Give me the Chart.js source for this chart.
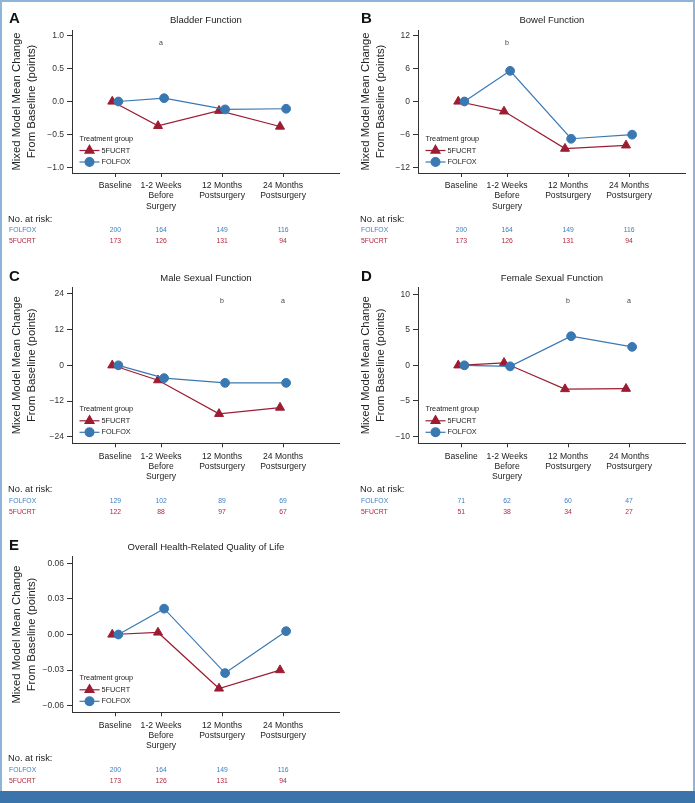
<!DOCTYPE html>
<html>
<head>
<meta charset="utf-8">
<script src="https://cdn.jsdelivr.net/npm/chart.js@4.4.1/dist/chart.umd.min.js"></script>
<style>
  html, body { margin: 0; padding: 0; background: #fff; }
  #page { position: relative; width: 695px; height: 803px; overflow: hidden; background: #fff; }
  #frame { position: absolute; left: 0; top: 0; width: 691px; height: 791px; border: 2px solid #8fb4d9; border-bottom: none; }
  #bar { position: absolute; left: 0; top: 791px; width: 695px; height: 12px; background: #3a74aa; }
  canvas { position: absolute; }
</style>
</head>
<body>
<div id="page">
  <div id="frame"></div>
  <div id="bar"></div>
</div>
<script>
// ── data ─────────────────────────────────────────────────────────
const timeLabels = [['Baseline'], ['1-2 Weeks', 'Before', 'Surgery'], ['12 Months', 'Postsurgery'], ['24 Months', 'Postsurgery']];
const timePos = [0, 0.75, 1.75, 2.75];
const dodge = 0.05;

const bladderFolfox = [0, 0.05, -0.12, -0.11];
const bladder5fucrt = [0, -0.37, -0.14, -0.38];
const bladderTicks  = [-1, -0.5, 0, 0.5, 1];
const bladderNotes  = ['', 'a', '', ''];

const bowelFolfox = [0, 5.6, -6.8, -6.05];
const bowel5fucrt = [0, -1.8, -8.6, -8.0];
const bowelTicks  = [-12, -6, 0, 6, 12];
const bowelNotes  = ['', 'b', '', ''];

const maleFolfox = [0, -4.3, -5.9, -5.9];
const male5fucrt = [0, -5.0, -16.3, -14.2];
const maleTicks  = [-24, -12, 0, 12, 24];
const maleNotes  = ['', '', 'b', 'a'];

const femaleFolfox = [0, -0.15, 4.1, 2.6];
const female5fucrt = [0, 0.35, -3.35, -3.3];
const femaleTicks  = [-10, -5, 0, 5, 10];
const femaleNotes  = ['', '', 'b', 'a'];

const qolFolfox = [0, 0.0218, -0.0325, 0.0028];
const qol5fucrt = [0, 0.0017, -0.0455, -0.030];
const qolTicks  = [-0.06, -0.03, 0, 0.03, 0.06];
const qolNotes  = ['', '', '', ''];

const riskFolfoxAll    = [200, 164, 149, 116];
const risk5fucrtAll    = [173, 126, 131, 94];
const riskFolfoxMale   = [129, 102, 89, 69];
const risk5fucrtMale   = [122, 88, 97, 67];
const riskFolfoxFemale = [71, 62, 60, 47];
const risk5fucrtFemale = [51, 38, 34, 27];

const panels = [
  { id: 'A', title: 'Bladder Function', fol: bladderFolfox, f5: bladder5fucrt, ticks: bladderTicks, range: 1.085, dec: 1, notes: bladderNotes, rFol: riskFolfoxAll, rF5: risk5fucrtAll },
  { id: 'B', title: 'Bowel Function', fol: bowelFolfox, f5: bowel5fucrt, ticks: bowelTicks, range: 13.05, dec: 0, notes: bowelNotes, rFol: riskFolfoxAll, rF5: risk5fucrtAll },
  { id: 'C', title: 'Male Sexual Function', fol: maleFolfox, f5: male5fucrt, ticks: maleTicks, range: 26.2, dec: 0, notes: maleNotes, rFol: riskFolfoxMale, rF5: risk5fucrtMale },
  { id: 'D', title: 'Female Sexual Function', fol: femaleFolfox, f5: female5fucrt, ticks: femaleTicks, range: 11, dec: 0, notes: femaleNotes, rFol: riskFolfoxFemale, rF5: risk5fucrtFemale },
  { id: 'E', title: 'Overall Health-Related Quality of Life', fol: qolFolfox, f5: qol5fucrt, ticks: qolTicks, range: 0.0656, dec: 2, notes: qolNotes, rFol: riskFolfoxAll, rF5: risk5fucrtAll },
];

// ── layout / style ───────────────────────────────────────────────
const FONT = "'Liberation Sans', Arial, sans-serif";
const COL = { f5: '#9c1d33', fol: '#3a78b2', f5Txt: '#b3283f', folTxt: '#3d80c2', ink: '#222', axis: '#333' };
const X_MIN = -0.71, X_MAX = 3.68;
const XAXIS_H = 70;

const cols = [
  { left: 0,   w: 346, axisW: 72, padR: 6, titlePad: 9.5 },
  { left: 352, w: 340, axisW: 66, padR: 6, titlePad: 6 },
];
const rows = [
  { top: 0,   h: 258, areaTop: 30,   areaBottom: 173 },
  { top: 258, h: 269, areaTop: 29.3, areaBottom: 185.3 },
  { top: 527, h: 263, areaTop: 29.7, areaBottom: 185.3 },
];

Chart.defaults.font.family = FONT;

const fmtTick = (v, dec) => {
  const s = Math.abs(v).toFixed(dec);
  return v < -1e-9 ? '\u2212' + s : s;
};

// panel letter, title, notes, legend and risk table
const decor = {
  id: 'decor',
  afterDraw(chart) {
    const { ctx, chartArea: a, scales } = chart;
    const p = chart.options.plugins.decor.panel;
    const ds = chart.data.datasets;
    ctx.save();

    ctx.fillStyle = '#111';
    ctx.font = `bold 15px ${FONT}`;
    ctx.textAlign = 'left';
    ctx.textBaseline = 'alphabetic';
    ctx.fillText(p.id, 9, 22.7);

    ctx.fillStyle = COL.ink;
    ctx.font = `9.5px ${FONT}`;
    ctx.textAlign = 'center';
    ctx.textBaseline = 'middle';
    ctx.fillText(p.title, (a.left + a.right) / 2, 20);

    ctx.fillStyle = '#444';
    ctx.font = `7px ${FONT}`;
    p.notes.forEach((n, i) => {
      if (n) ctx.fillText(n, scales.x.getPixelForValue(timePos[i]), a.top + 13.5);
    });

    // legend
    const lx = a.left + 7.5;
    ctx.textAlign = 'left';
    ctx.fillStyle = COL.ink;
    ctx.font = `7.3px ${FONT}`;
    ctx.fillText('Treatment group', lx, a.bottom - 34);
    [ds[1], ds[0]].forEach((d, k) => {
      const y = a.bottom - 22.5 + k * 11.5;
      ctx.strokeStyle = d.borderColor;
      ctx.lineWidth = 1.2;
      ctx.beginPath();
      ctx.moveTo(lx, y);
      ctx.lineTo(lx + 20, y);
      ctx.stroke();
      ctx.fillStyle = d.backgroundColor;
      Chart.helpers.drawPoint(ctx, { pointStyle: d.pointStyle, radius: d.pointRadius, borderWidth: 1, rotation: 0 }, lx + 10, y);
      ctx.fillStyle = COL.ink;
      ctx.fillText(d.label, lx + 22, y);
    });

    // number at risk
    ctx.font = `9.3px ${FONT}`;
    ctx.fillStyle = COL.ink;
    ctx.fillText('No. at risk:', 8, a.bottom + 46.5);
    ctx.font = `6.8px ${FONT}`;
    const rowsR = [['FOLFOX', p.rFol, COL.folTxt, 57.5], ['5FUCRT', p.rF5, COL.f5Txt, 68.5]];
    rowsR.forEach(([name, vals, c, dy]) => {
      ctx.fillStyle = c;
      ctx.textAlign = 'left';
      ctx.fillText(name, 9, a.bottom + dy);
      ctx.textAlign = 'center';
      vals.forEach((v, i) => ctx.fillText(String(v), scales.x.getPixelForValue(timePos[i]), a.bottom + dy));
    });
    ctx.restore();
  },
};

function buildPanel(p, idx) {
  const c = cols[idx % 2], r = rows[Math.floor(idx / 2)];
  const canvas = document.createElement('canvas');
  canvas.width = c.w;
  canvas.height = r.h;
  canvas.style.left = c.left + 'px';
  canvas.style.top = r.top + 'px';
  document.getElementById('page').appendChild(canvas);

  const common = { showLine: true, borderWidth: 1.2, pointBorderWidth: 1, pointHoverRadius: 5 };
  return new Chart(canvas, {
    type: 'scatter',
    data: {
      datasets: [
        { ...common, label: 'FOLFOX', order: 0,
          data: timePos.map((x, i) => ({ x: x + dodge, y: p.fol[i] })),
          borderColor: COL.fol, backgroundColor: COL.fol, pointBorderColor: COL.fol,
          pointStyle: 'circle', pointRadius: 4.4 },
        { ...common, label: '5FUCRT', order: 1,
          data: timePos.map((x, i) => ({ x: x - dodge, y: p.f5[i] })),
          borderColor: COL.f5, backgroundColor: COL.f5, pointBorderColor: COL.f5,
          pointStyle: 'triangle', pointRadius: 5.2 },
      ],
    },
    options: {
      responsive: false,
      animation: false,
      layout: { padding: { top: r.areaTop, bottom: r.h - r.areaBottom - XAXIS_H, left: 0, right: c.padR } },
      plugins: { legend: { display: false }, tooltip: { enabled: false }, decor: { panel: p } },
      scales: {
        x: {
          type: 'linear', min: X_MIN, max: X_MAX,
          afterBuildTicks: s => { s.ticks = timePos.map(v => ({ value: v })); },
          afterFit: s => { s.height = XAXIS_H; },
          ticks: {
            autoSkip: false, maxRotation: 0, padding: 4, color: COL.ink,
            font: { size: 8.6, lineHeight: 1.17 },
            callback: v => timeLabels[timePos.indexOf(v)],
          },
          grid: { drawOnChartArea: false, tickLength: 4, color: COL.axis },
          border: { color: COL.axis, width: 1 },
        },
        y: {
          min: -p.range, max: p.range,
          afterBuildTicks: s => { s.ticks = p.ticks.map(v => ({ value: v })); },
          afterFit: s => { s.width = c.axisW; },
          ticks: { padding: 3, color: COL.axis, font: { size: 8.5 }, callback: v => fmtTick(v, p.dec) },
          grid: { drawOnChartArea: false, tickLength: 5, color: COL.axis },
          border: { color: COL.axis, width: 1 },
          title: {
            display: true, color: COL.ink,
            text: ['Mixed Model Mean Change', 'From Baseline (points)'],
            font: { size: 11.3, lineHeight: 1.35 },
            padding: { top: c.titlePad, bottom: 0 },
          },
        },
      },
    },
    plugins: [decor],
  });
}

panels.forEach(buildPanel);
</script>
</body>
</html>
